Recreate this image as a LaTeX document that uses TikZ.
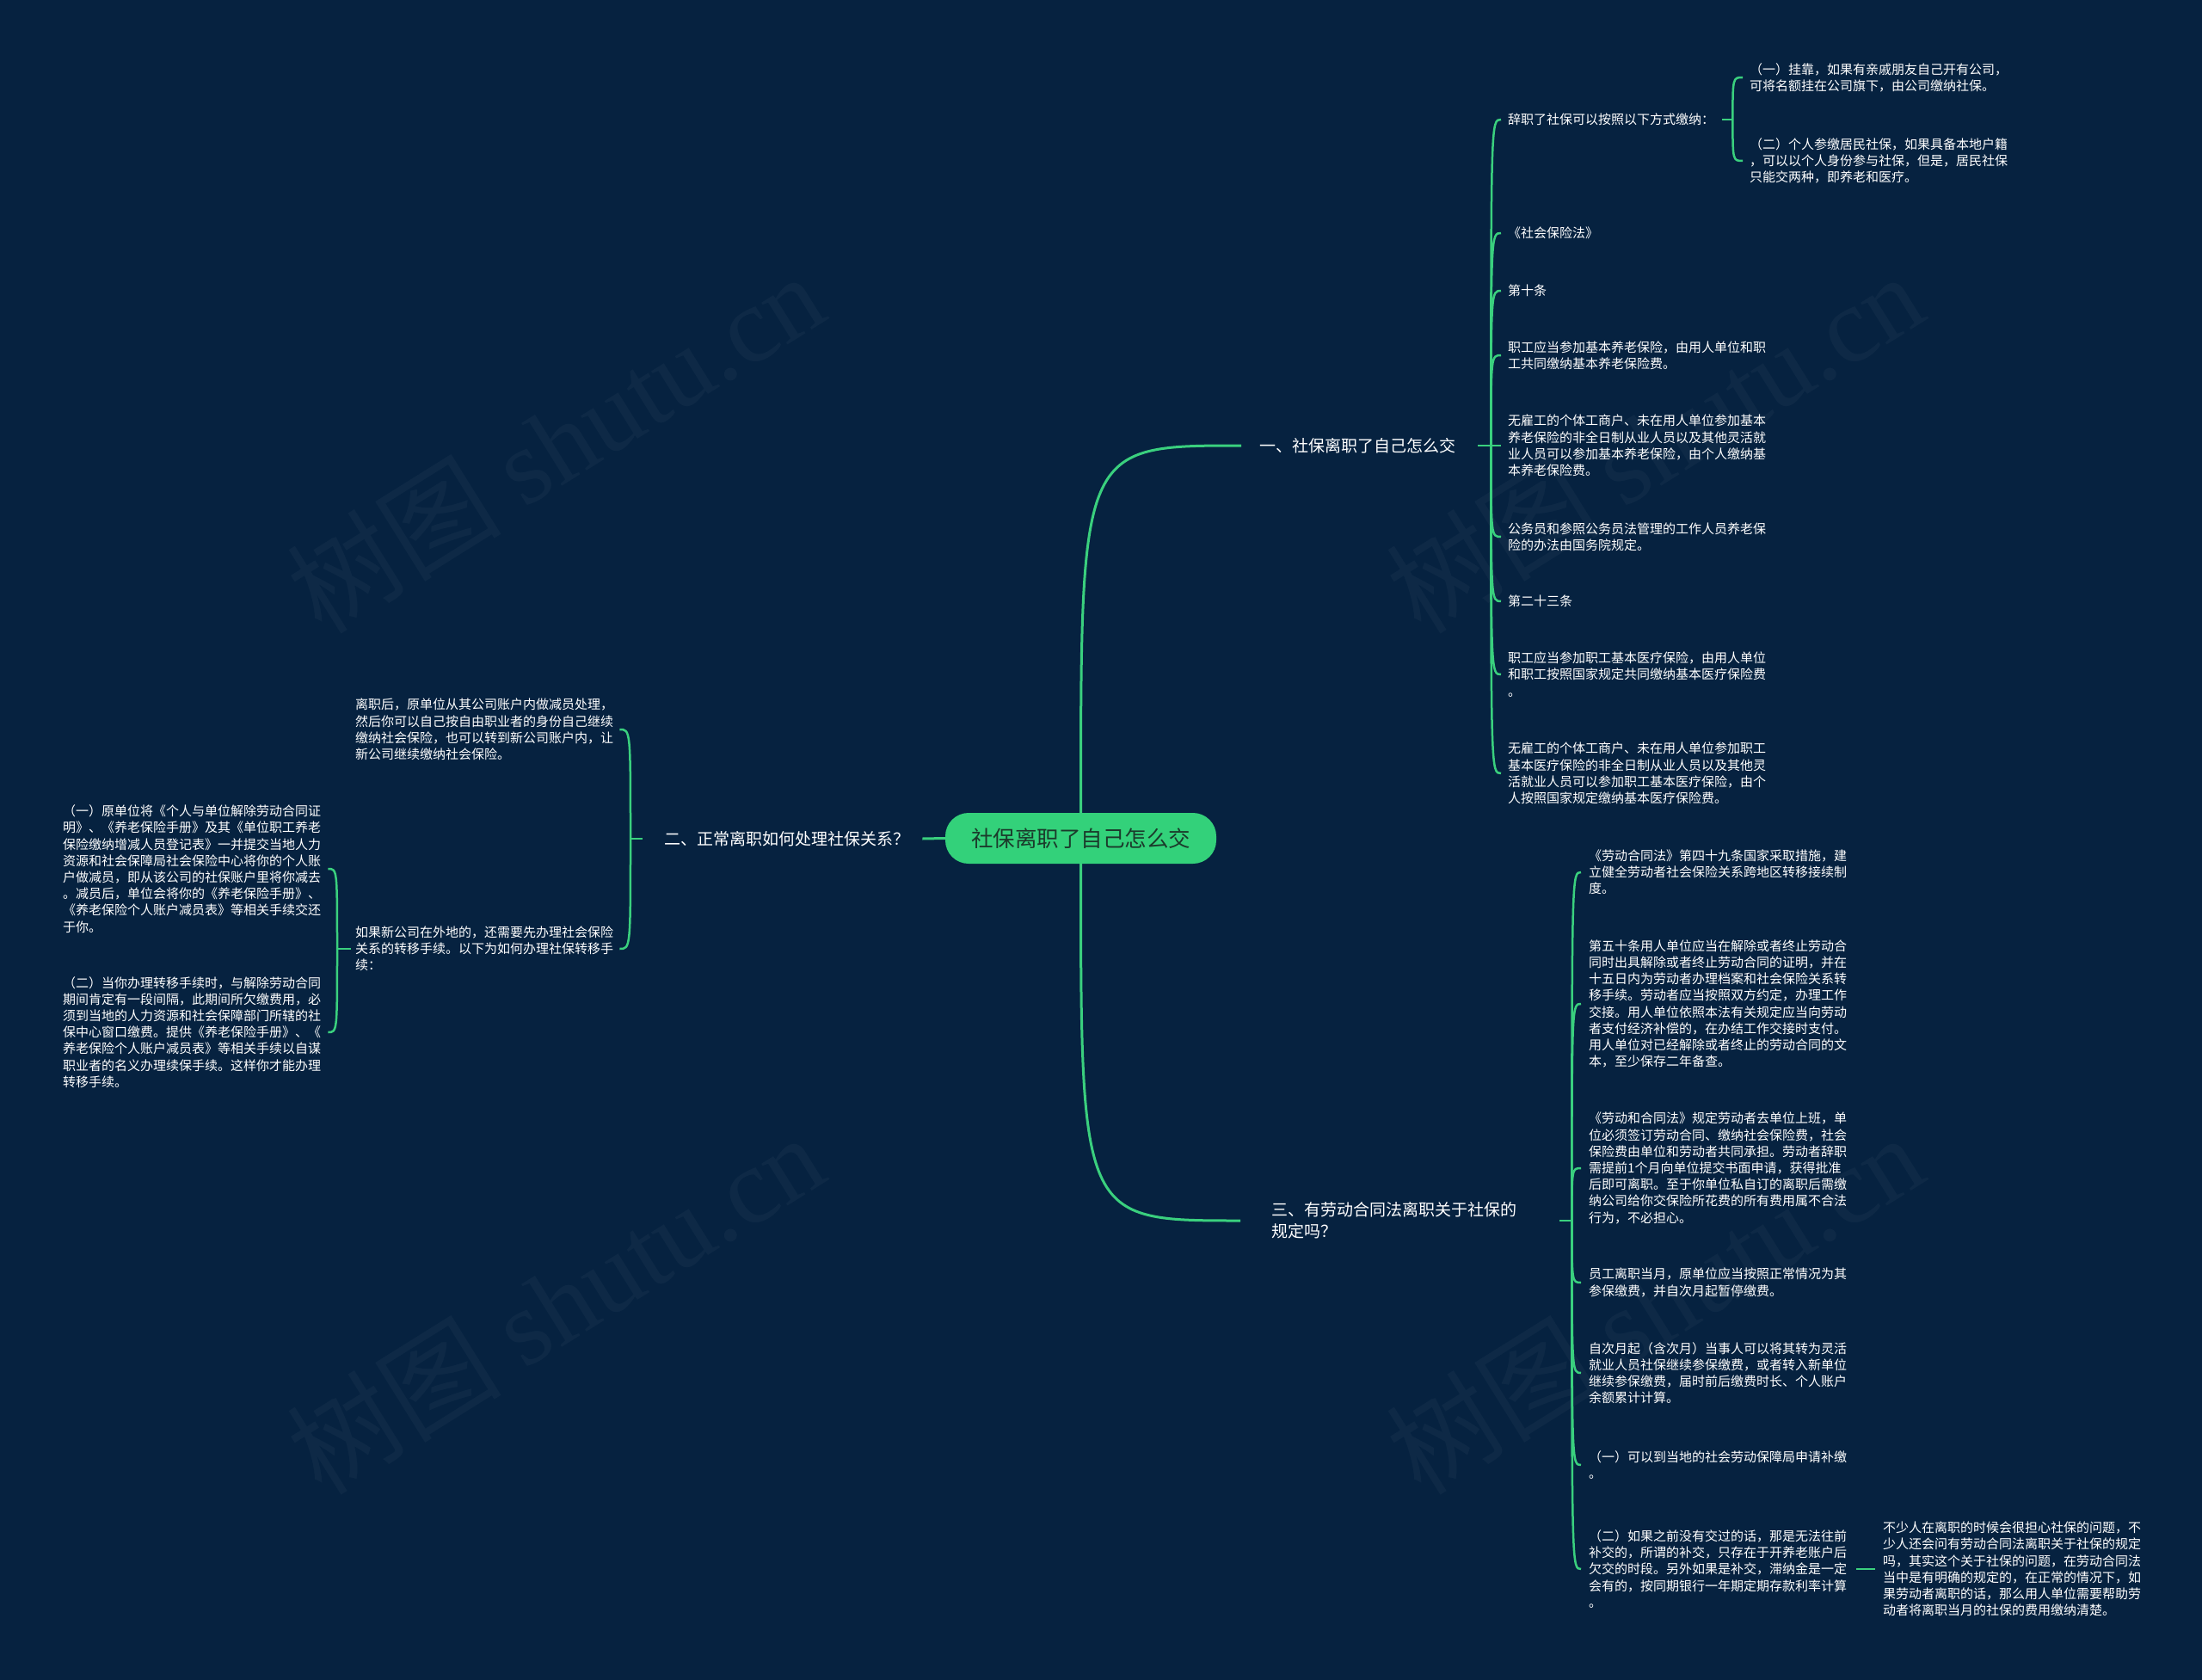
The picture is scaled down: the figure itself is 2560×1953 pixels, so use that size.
\documentclass[tikz,border=0pt]{standalone}
\usepackage{fontspec}
\setmainfont{Noto Sans CJK SC}
\newfontfamily\wmserif{Liberation Serif}
\usetikzlibrary{calc}
\definecolor{bg}{HTML}{062240}
\definecolor{ln}{HTML}{3AD07E}
\definecolor{rootfill}{HTML}{33D17A}
\definecolor{roottext}{HTML}{1B3A2B}
\begin{document}
\begin{tikzpicture}[x=1pt,y=-1pt,
 leaf/.style={anchor=west,inner sep=0pt,align=left,text=white,font=\fontsize{15}{19.2}\selectfont},
 branch/.style={anchor=west,inner sep=0pt,align=left,text=white,font=\fontsize{19}{25}\selectfont},
 conn/.style={draw=ln,line width=2.5pt},
 mainconn/.style={draw=ln,line width=3pt},
 wm/.style={rotate=32,text=white,opacity=0.035,inner sep=0pt,font=\fontsize{125}{125}\selectfont}]
\fill[bg] (0,0) rectangle (2560,1953);
\useasboundingbox (0,0) rectangle (2560,1953);
% watermarks
\node[wm] (wm1) at (645,514) {树图 {\wmserif shutu.cn}};
\node[wm] (wm2) at (1923,514) {树图 {\wmserif shutu.cn}};
\node[wm] (wm3) at (645,1515) {树图 {\wmserif shutu.cn}};
\node[wm] (wm4) at (1923,1515) {树图 {\wmserif shutu.cn}};
% root
\node[fill=rootfill,rounded corners=27pt,minimum width=315pt,minimum height=59pt,inner sep=0pt,text=roottext,font=\fontsize{25.5}{30}\selectfont] (root) at (1256.5,974.5) {社保离职了自己怎么交};
% branches
\node[branch] (b1) at (1464,518) {一、社保离职了自己怎么交};
\node[branch] (b2) at (772,975) {二、正常离职如何处理社保关系？};
\node[branch] (b3) at (1478,1419) {三、有劳动合同法离职关于社保的\\规定吗？};
% branch 1 children
\node[leaf] (c1) at (1753,139) {辞职了社保可以按照以下方式缴纳：};
\node[leaf] (g1) at (2034,90) {（一）挂靠，如果有亲戚朋友自己开有公司，\\可将名额挂在公司旗下，由公司缴纳社保。};
\node[leaf] (g2) at (2034,187) {（二）个人参缴居民社保，如果具备本地户籍\\，可以以个人身份参与社保，但是，居民社保\\只能交两种，即养老和医疗。};
\node[leaf] (c2) at (1753,271) {《社会保险法》};
\node[leaf] (c3) at (1753,338) {第十条};
\node[leaf] (c4) at (1753,413) {职工应当参加基本养老保险，由用人单位和职\\工共同缴纳基本养老保险费。};
\node[leaf] (c5) at (1753,518) {无雇工的个体工商户、未在用人单位参加基本\\养老保险的非全日制从业人员以及其他灵活就\\业人员可以参加基本养老保险，由个人缴纳基\\本养老保险费。};
\node[leaf] (c6) at (1753,624) {公务员和参照公务员法管理的工作人员养老保\\险的办法由国务院规定。};
\node[leaf] (c7) at (1753,699) {第二十三条};
\node[leaf] (c8) at (1753,784) {职工应当参加职工基本医疗保险，由用人单位\\和职工按照国家规定共同缴纳基本医疗保险费\\。};
\node[leaf] (c9) at (1753,899) {无雇工的个体工商户、未在用人单位参加职工\\基本医疗保险的非全日制从业人员以及其他灵\\活就业人员可以参加职工基本医疗保险，由个\\人按照国家规定缴纳基本医疗保险费。};
% branch 2 children
\node[leaf] (e1) at (413,848) {离职后，原单位从其公司账户内做减员处理，\\然后你可以自己按自由职业者的身份自己继续\\缴纳社会保险，也可以转到新公司账户内，让\\新公司继续缴纳社会保险。};
\node[leaf] (e2) at (413,1103) {如果新公司在外地的，还需要先办理社会保险\\关系的转移手续。以下为如何办理社保转移手\\续：};
\node[leaf] (f1) at (73,1010) {（一）原单位将《个人与单位解除劳动合同证\\明》、《养老保险手册》及其《单位职工养老\\保险缴纳增减人员登记表》一并提交当地人力\\资源和社会保障局社会保险中心将你的个人账\\户做减员，即从该公司的社保账户里将你减去\\。减员后，单位会将你的《养老保险手册》、\\《养老保险个人账户减员表》等相关手续交还\\于你。};
\node[leaf] (f2) at (73,1200) {（二）当你办理转移手续时，与解除劳动合同\\期间肯定有一段间隔，此期间所欠缴费用，必\\须到当地的人力资源和社会保障部门所辖的社\\保中心窗口缴费。提供《养老保险手册》、《\\养老保险个人账户减员表》等相关手续以自谋\\职业者的名义办理续保手续。这样你才能办理\\转移手续。};
% branch 3 children
\node[leaf] (h1) at (1847,1014) {《劳动合同法》第四十九条国家采取措施，建\\立健全劳动者社会保险关系跨地区转移接续制\\度。};
\node[leaf] (h2) at (1847,1167) {第五十条用人单位应当在解除或者终止劳动合\\同时出具解除或者终止劳动合同的证明，并在\\十五日内为劳动者办理档案和社会保险关系转\\移手续。劳动者应当按照双方约定，办理工作\\交接。用人单位依照本法有关规定应当向劳动\\者支付经济补偿的，在办结工作交接时支付。\\用人单位对已经解除或者终止的劳动合同的文\\本，至少保存二年备查。};
\node[leaf] (h3) at (1847,1358) {《劳动和合同法》规定劳动者去单位上班，单\\位必须签订劳动合同、缴纳社会保险费，社会\\保险费由单位和劳动者共同承担。劳动者辞职\\需提前1个月向单位提交书面申请，获得批准\\后即可离职。至于你单位私自订的离职后需缴\\纳公司给你交保险所花费的所有费用属不合法\\行为，不必担心。};
\node[leaf] (h4) at (1847,1491) {员工离职当月，原单位应当按照正常情况为其\\参保缴费，并自次月起暂停缴费。};
\node[leaf] (h5) at (1847,1596) {自次月起（含次月）当事人可以将其转为灵活\\就业人员社保继续参保缴费，或者转入新单位\\继续参保缴费，届时前后缴费时长、个人账户\\余额累计计算。};
\node[leaf] (h6) at (1847,1703) {（一）可以到当地的社会劳动保障局申请补缴\\。};
\node[leaf] (h7) at (1847,1824) {（二）如果之前没有交过的话，那是无法往前\\补交的，所谓的补交，只存在于开养老账户后\\欠交的时段。另外如果是补交，滞纳金是一定\\会有的，按同期银行一年期定期存款利率计算\\。};
\node[leaf] (h8) at (2189,1824) {不少人在离职的时候会很担心社保的问题，不\\少人还会问有劳动合同法离职关于社保的规定\\吗，其实这个关于社保的问题，在劳动合同法\\当中是有明确的规定的，在正常的情况下，如\\果劳动者离职的话，那么用人单位需要帮助劳\\动者将离职当月的社保的费用缴纳清楚。};
% junction coordinates
\coordinate (b1in) at ([xshift=-21pt]b1.west);
\coordinate (b3in) at ([xshift=-36pt]b3.west);
\coordinate (J1) at ([xshift=41pt]b1.east);
\coordinate (J1a) at ([xshift=21pt]c1.east);
\coordinate (J2) at ([xshift=-39pt]b2.west);
\coordinate (J2a) at ([xshift=-21pt]e2.west);
\coordinate (J3) at ([xshift=64pt]b3.east);
% root connectors
\draw[mainconn] (root.north) .. controls (root.north |- b1in) and (root.north |- b1in) .. (b1in);
\draw[mainconn] (root.south) .. controls (root.south |- b3in) and (root.south |- b3in) .. (b3in);
\draw[mainconn] (root.west) -- ([xshift=15pt]b2.east);
% branch 1
\draw[conn] ([xshift=26pt]b1.east) -- (J1);
\foreach \c in {c1,c2,c3,c4,c5,c6,c7,c8,c9}
  \draw[conn] (J1) .. controls (J1 |- \c.west) .. ([xshift=-8pt]\c.west);
\draw[conn] ([xshift=9pt]c1.east) -- (J1a);
\foreach \c in {g1,g2}
  \draw[conn] (J1a) .. controls (J1a |- \c.west) .. ([xshift=-8pt]\c.west);
% branch 2
\draw[conn] ([xshift=-25pt]b2.west) -- (J2);
\foreach \c in {e1,e2}
  \draw[conn] (J2) .. controls (J2 |- \c.east) .. ([xshift=7pt]\c.east);
\draw[conn] ([xshift=-5pt]e2.west) -- (J2a);
\foreach \c in {f1,f2}
  \draw[conn] (J2a) .. controls (J2a |- \c.east) .. ([xshift=8pt]\c.east);
% branch 3
\draw[conn] ([xshift=50pt]b3.east) -- (J3);
\foreach \c in {h1,h2,h3,h4,h5,h6,h7}
  \draw[conn] (J3) .. controls (J3 |- \c.west) .. ([xshift=-9pt]\c.west);
\draw[conn] ([xshift=11pt]h7.east) -- ([xshift=-9pt]h8.west);
\end{tikzpicture}
\end{document}
